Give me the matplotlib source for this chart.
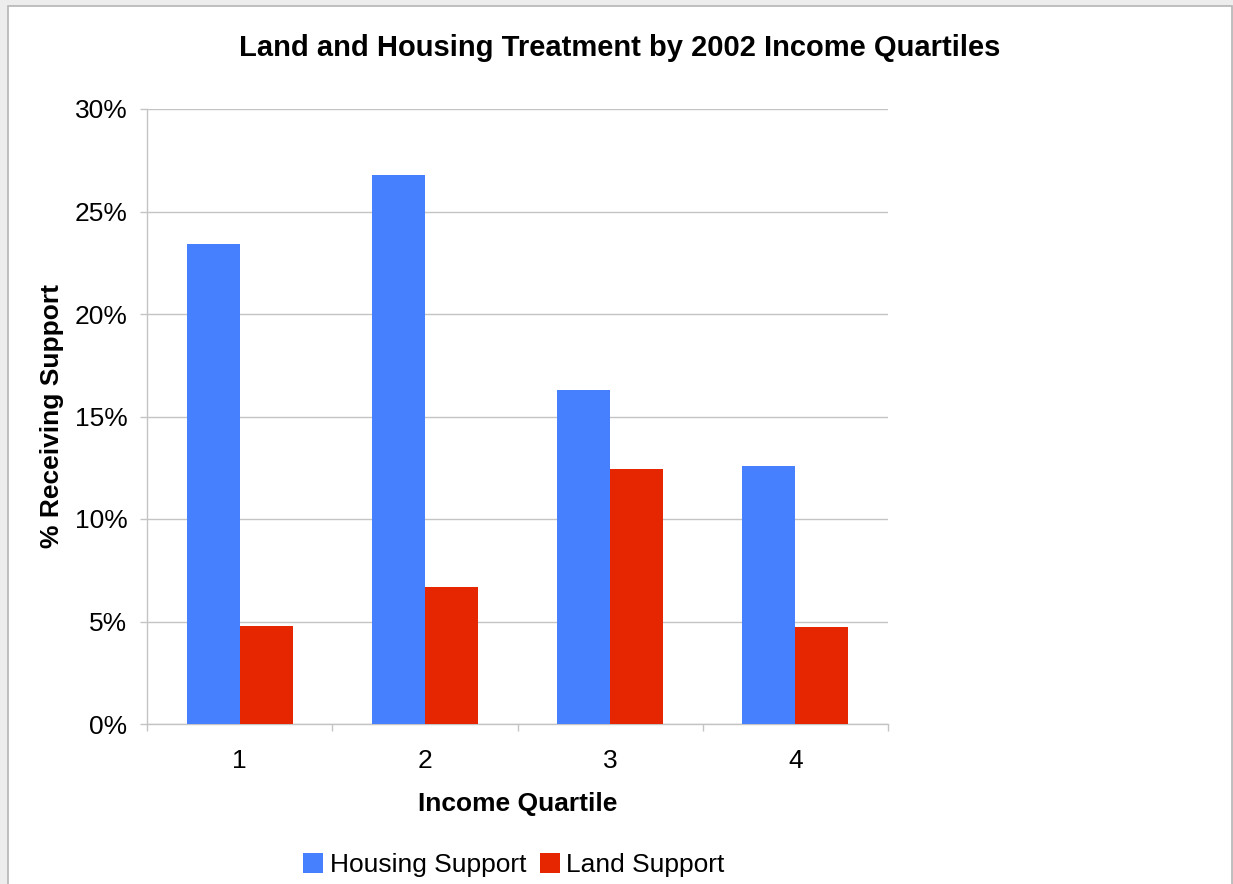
import matplotlib.pyplot as plt
from matplotlib.patches import Rectangle
from matplotlib.ticker import MultipleLocator, PercentFormatter

plt.rcParams['font.family'] = ['Liberation Sans', 'DejaVu Sans']

quartiles = [1, 2, 3, 4]
housing = [23.4, 26.8, 16.3, 12.6]
land = [4.8, 6.7, 12.45, 4.75]

blue = '#4680FF'
red = '#E52600'
grid_gray = '#C4C4C4'

fig = plt.figure(figsize=(12.33, 8.84), dpi=100, facecolor='#EDEDED')
# white chart card with a thin grey border, kept behind the axes
fig.patches.append(Rectangle((8 / 1233, -0.01), 1224 / 1233, 1 - 6 / 884 + 0.01,
                             transform=fig.transFigure, facecolor='white',
                             edgecolor='#B5B5B5', linewidth=1.2, zorder=-10))

ax = fig.add_axes([147 / 1233, 160 / 884, 741 / 1233, 615 / 884])
ax.set_zorder(1)
ax.set_facecolor('white')

w = 0.286
ax.bar([q - w for q in quartiles], housing, width=w, align='edge', color=blue,
       label='Housing Support', zorder=3)
ax.bar(quartiles, land, width=w, align='edge', color=red,
       label='Land Support', zorder=3)

ax.set_xlim(0.5, 4.5)
ax.set_ylim(0, 30)
ax.yaxis.set_major_locator(MultipleLocator(5))
ax.yaxis.set_major_formatter(PercentFormatter(decimals=0))
ax.grid(axis='y', color=grid_gray, linewidth=1.0, zorder=0)

ax.set_xticks(quartiles)
ax.set_xticks([0.5, 1.5, 2.5, 3.5, 4.5], minor=True)
ax.tick_params(axis='x', which='major', length=0, pad=18, labelsize=19)
ax.tick_params(axis='x', which='minor', length=5, color=grid_gray, width=1.0)
ax.tick_params(axis='y', length=5, color=grid_gray, width=1.0, pad=9, labelsize=19)

for side in ['top', 'right']:
    ax.spines[side].set_visible(False)
for side in ['left', 'bottom']:
    ax.spines[side].set_color(grid_gray)
    ax.spines[side].set_linewidth(1.0)

ax.set_xlabel('Income Quartile', fontsize=19, fontweight='bold', labelpad=14)
ax.set_ylabel('% Receiving Support', fontsize=19, fontweight='bold', labelpad=8)

fig.text(620 / 1233, 1 - 48 / 884, 'Land and Housing Treatment by 2002 Income Quartiles',
         ha='center', va='center', fontsize=21, fontweight='bold')

fig.legend(loc='center', bbox_to_anchor=(514 / 1233, 1 - 865 / 884), ncol=2,
           frameon=False, fontsize=19, handlelength=0.76, handleheight=0.76,
           handletextpad=0.25, columnspacing=0.5, borderpad=0)

fig.savefig('out.png', dpi=100, facecolor=fig.get_facecolor())
